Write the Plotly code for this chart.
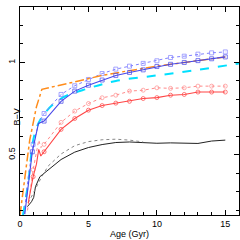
import plotly.graph_objects as go

# Black solid
blk_x = [0.54, 0.84, 1.0, 1.13, 1.45, 2.06, 3, 4, 5, 6, 7, 8, 9, 10, 11, 12, 13, 14, 15]
blk_y = [0.22, 0.247, 0.27, 0.328, 0.382, 0.42, 0.475, 0.515, 0.54, 0.556, 0.567, 0.57, 0.565, 0.563, 0.565, 0.565, 0.562, 0.575, 0.58]
# Black dotted
bkd_x = [0.6, 1.0, 1.57, 2.06, 3, 4, 5, 6, 7, 8, 9]
bkd_y = [0.24, 0.3, 0.38, 0.44, 0.505, 0.55, 0.572, 0.582, 0.585, 0.58, 0.57]
# Red solid (circles)
red_x = [0.6, 0.96, 1.2, 1.37, 1.52, 1.76, 3, 4, 5, 6, 7, 8, 9, 10, 11, 12, 13, 14, 15]
red_y = [0.24, 0.382, 0.45, 0.53, 0.494, 0.517, 0.638, 0.697, 0.742, 0.767, 0.78, 0.79, 0.805, 0.81, 0.823, 0.827, 0.84, 0.84, 0.84]
red_m = [0, 4, 0, 0, 0, 4, 4, 4, 4, 4, 4, 4, 4, 4, 4, 4, 4, 4, 4]
# Red dotted (circles)
rdd_x = [0.55, 0.96, 1.37, 1.52, 1.76, 3, 4, 5, 6, 7, 8, 9, 10, 11, 12, 13, 14, 15]
rdd_y = [0.2, 0.42, 0.58, 0.54, 0.557, 0.676, 0.737, 0.778, 0.809, 0.823, 0.845, 0.85, 0.863, 0.86, 0.863, 0.872, 0.872, 0.872]
rdd_m = [0, 4, 0, 0, 4, 4, 4, 4, 4, 4, 4, 4, 4, 4, 4, 4, 4, 4]
# Blue solid (squares)
blu_x = [0.35, 0.6, 0.9, 1.35, 1.76, 3, 4, 5, 6, 7, 8, 9, 10, 11, 12, 13, 14, 15]
blu_y = [0.18, 0.35, 0.517, 0.67, 0.683, 0.79, 0.845, 0.877, 0.905, 0.93, 0.946, 0.96, 0.978, 0.99, 1.0, 1.01, 1.02, 1.03]
blu_m = [0, 0, 4, 0, 4, 4, 4, 4, 4, 4, 4, 4, 4, 4, 4, 4, 4, 4]
# Blue dotted (squares)
bld_x = [0.3, 0.6, 0.96, 1.4, 1.76, 3, 4, 5, 6, 7, 8, 9, 10, 11, 12, 13, 14, 15]
bld_y = [0.18, 0.38, 0.557, 0.68, 0.724, 0.827, 0.874, 0.908, 0.94, 0.964, 0.98, 0.995, 1.009, 1.027, 1.034, 1.045, 1.052, 1.057]
bld_m = [0, 0, 4, 0, 4, 4, 4, 4, 4, 4, 4, 4, 4, 4, 4, 4, 4, 4]
# Cyan dashed
cyn_x = [0.22, 0.59, 1.08, 1.7, 3, 5, 7, 10, 13, 16]
cyn_y = [0.175, 0.346, 0.616, 0.715, 0.805, 0.86, 0.9, 0.93, 0.96, 0.995]
# Orange dash-dot
org_x = [0.0, 0.35, 0.71, 1.2, 1.6, 4, 6, 7.45, 10, 12, 15]
org_y = [0.175, 0.382, 0.58, 0.76, 0.855, 0.895, 0.93, 0.949, 0.98, 1.0, 1.03]

fig = go.Figure()
fig.add_trace(go.Scatter(x=blk_x, y=blk_y, mode="lines", line=dict(color="#222222", width=1)))
fig.add_trace(go.Scatter(x=bkd_x, y=bkd_y, mode="lines", line=dict(color="#888888", width=1, dash="dot")))
fig.add_trace(go.Scatter(x=rdd_x, y=rdd_y, mode="lines+markers", line=dict(color="#ff8a8a", width=1, dash="dot"),
                         marker=dict(symbol="circle-open", size=rdd_m, color="#ff8a8a", line=dict(width=1))))
fig.add_trace(go.Scatter(x=red_x, y=red_y, mode="lines+markers", line=dict(color="#ff4545", width=1.1),
                         marker=dict(symbol="circle-open", size=red_m, color="#ff4545", line=dict(width=1))))
fig.add_trace(go.Scatter(x=cyn_x, y=cyn_y, mode="lines", line=dict(color="#00e0ff", width=2, dash="dash"),
                         line_shape="spline"))
fig.add_trace(go.Scatter(x=bld_x, y=bld_y, mode="lines+markers", line=dict(color="#8080ff", width=1, dash="dot"),
                         marker=dict(symbol="square-open", size=bld_m, color="#8080ff", line=dict(width=1))))
fig.add_trace(go.Scatter(x=org_x, y=org_y, mode="lines", line=dict(color="#ff8c1a", width=1.5, dash="dashdot")))
fig.add_trace(go.Scatter(x=blu_x, y=blu_y, mode="lines+markers", line=dict(color="#4848e8", width=1.1),
                         marker=dict(symbol="square-open", size=blu_m, color="#4848e8", line=dict(width=1))))

axis_common = dict(showgrid=False, zeroline=False, showline=True, linecolor="black", linewidth=1,
                   mirror="allticks", ticks="inside", ticklen=5, tickcolor="black",
                   tickfont=dict(family="Liberation Sans", size=9, color="black"))
fig.update_xaxes(range=[0, 16], tickvals=[0, 5, 10, 15], ticktext=["0", "5", "10", "15"],
                 minor=dict(ticks="inside", ticklen=3, dtick=1, tick0=0, tickcolor="black"),
                 title=dict(text="Age (Gyr)", font=dict(family="Liberation Sans", size=9, color="black"), standoff=2),
                 **axis_common)
fig.update_yaxes(range=[0.175, 1.3], tickvals=[0.5, 1], ticktext=["0.5", "1"], tickangle=-90,
                 minor=dict(ticks="inside", ticklen=3, dtick=0.1, tick0=0, tickcolor="black"),
                 **axis_common)
fig.add_annotation(text="B−V", xref="paper", yref="paper", x=-0.045, y=0.47, showarrow=False,
                   textangle=-90, font=dict(family="Liberation Sans", size=9, color="black"))
fig.update_layout(width=240, height=240, margin=dict(l=20, r=1, t=7, b=25, autoexpand=False),
                  paper_bgcolor="white", plot_bgcolor="white", showlegend=False)
fig.write_html("out.html", config={"displayModeBar": False},
               post_script="document.body.style.margin='0';document.body.style.padding='0';")
